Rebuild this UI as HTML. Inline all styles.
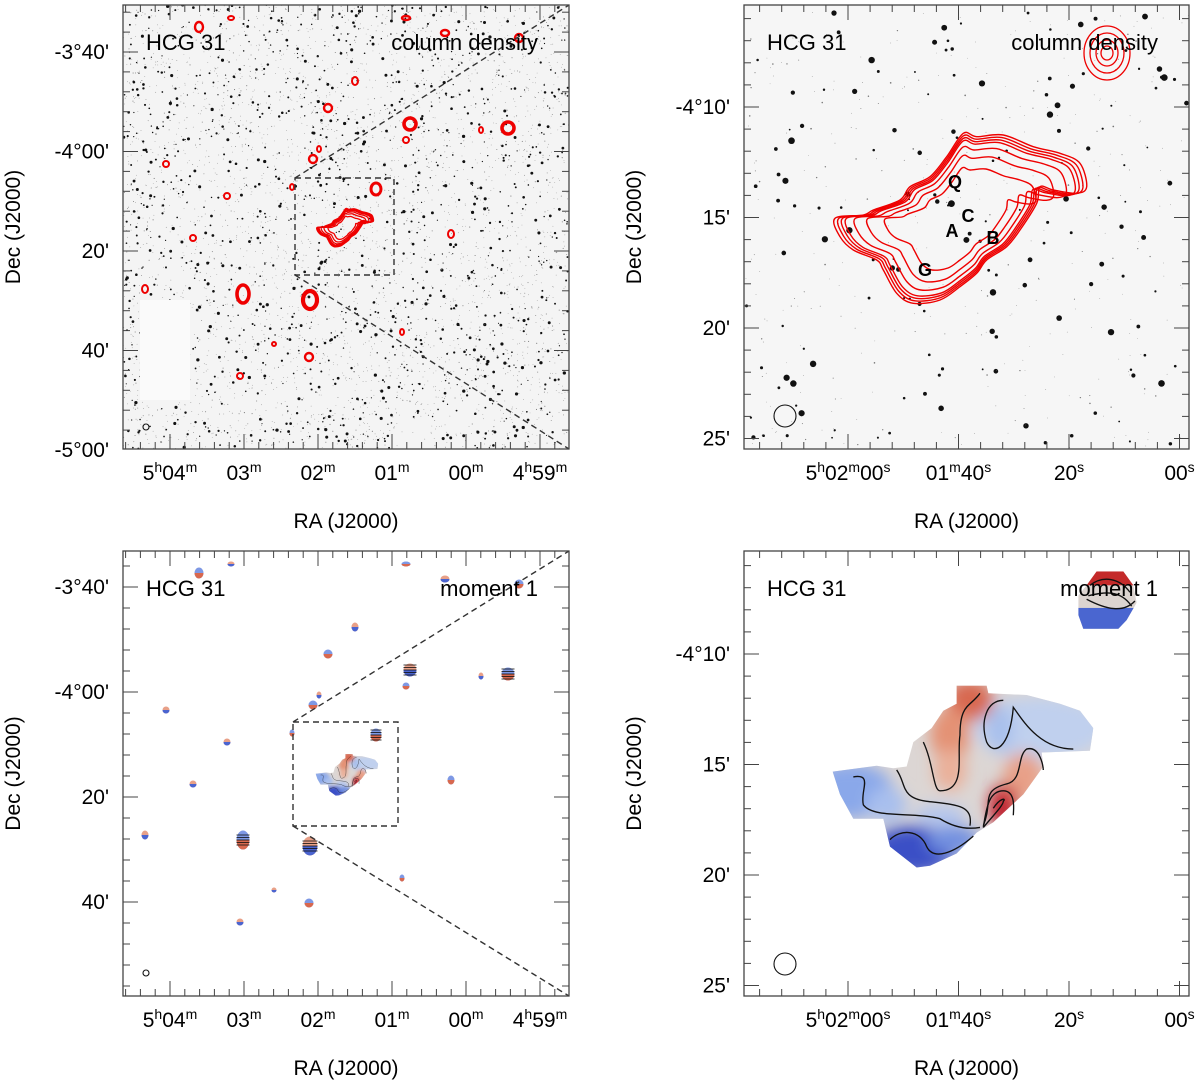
<!DOCTYPE html>
<html><head><meta charset="utf-8"><style>
html,body{margin:0;padding:0;background:#fff;}
svg{display:block;font-family:"Liberation Sans",Arial,sans-serif;}
</style></head><body>
<svg id="fig" width="1200" height="1085" viewBox="0 0 1200 1085" xmlns="http://www.w3.org/2000/svg">
<defs>
<filter id="blur8" x="-50%" y="-50%" width="200%" height="200%"><feGaussianBlur stdDeviation="22"/></filter>
<clipPath id="clipTL"><rect x="123" y="5" width="446" height="444"/></clipPath>
<clipPath id="clipTR"><rect x="744" y="5" width="445" height="444"/></clipPath>
<clipPath id="clipBL"><rect x="123" y="551" width="446" height="445"/></clipPath>
<clipPath id="blobClip"><polygon id="blobPoly" points="278,665 300,730 340,800 430,800 450,880 530,940 570,935 650,900 710,840 760,810 850,730 910,650 905,610 1050,605 1060,540 1020,490 960,470 860,445 745,440 740,418 650,418 650,470 610,490 575,540 520,580 500,650 460,655 410,648"/></clipPath>
<clipPath id="smallClip"><polygon points="1070,90 1150,90 1180,130 1190,180 1160,230 1135,255 1030,255 1015,215 1015,160 1040,130"/></clipPath>
</defs>
<g id="layer"></g>
</svg>
<script>
// ---- data arrays ----
const tlYLabels=["-3°40'","-4°00'","20'","40'","-5°00'"];
const tlXLabels=[["5","h","04","m"],["03","m"],["02","m"],["01","m"],["00","m"],["4","h","59","m"]];
const trYLabels=["-4°10'","15'","20'","25'"];
const trXLabels=[["5","h","02","m","00","s"],["01","m","40","s"],["20","s"],["00","s"]];
const hiSources=[[199,27,4,5],[231,18,3,2],[406,18,4,2],[445,33,4,3],[519,38,4,4],[355,81,3,4],[328,108,4,4],[410,124,6,6],[508,128,6,6],[481,130,2,3],[406,140,3,3],[319,149,2,3],[313,159,4,4],[166,164,3,3],[292,187,2,3],[227,196,3,3],[376,189,5,6],[193,238,3,3],[451,234,3,4],[145,289,3,4],[243,294,6,9],[310,300,7,9],[402,332,2,3],[274,344,2,2],[309,357,4,4],[240,376,3,3]];
const outerContour=[[45,295],[130,285],[160,270],[240,240],[270,200],[330,170],[380,110],[430,40],[470,50],[550,45],[640,80],[720,100],[780,130],[800,200],[770,220],[700,210],[660,200],[650,250],[600,330],[560,380],[500,420],[470,460],[420,500],[360,540],[280,550],[230,520],[190,450],[170,420],[100,390],[60,350]];
const contourLevels=[1,0.97,0.94,0.91,0.84,0.74,0.6];

const NS="http://www.w3.org/2000/svg";
const layer=document.getElementById('layer');
function el(tag,attrs,parent){const e=document.createElementNS(NS,tag);for(const k in attrs)e.setAttribute(k,attrs[k]);(parent||layer).appendChild(e);return e;}
let seed=12345;function rnd(){seed=(seed*1103515245+12345)%2147483648;return seed/2147483648;}
function smooth(pts){let d='M'+pts[0][0].toFixed(1)+','+pts[0][1].toFixed(1);const n=pts.length;
  for(let i=0;i<n;i++){const p0=pts[(i-1+n)%n],p1=pts[i],p2=pts[(i+1)%n],p3=pts[(i+2)%n];
    d+=` C${(p1[0]+(p2[0]-p0[0])/6).toFixed(1)},${(p1[1]+(p2[1]-p0[1])/6).toFixed(1)} ${(p2[0]-(p3[0]-p1[0])/6).toFixed(1)},${(p2[1]-(p3[1]-p1[1])/6).toFixed(1)} ${p2[0].toFixed(1)},${p2[1].toFixed(1)}`;}
  return d+'Z';}

// ---- star field backgrounds ----
function starfield(x,y,w,h,n,rmax,clip,name,bg){
  const g=el('g',{'clip-path':'url(#'+clip+')'});
  
  
  el('rect',{x:x,y:y,width:w,height:h,fill:bg},g);
  for(let i=0;i<n;i++){const r=rnd();el('circle',{cx:x+rnd()*w,cy:y+rnd()*h,r:(0.35+Math.pow(r,5)*rmax).toFixed(2),fill:r>0.7?'#111':'#777'},g);}
  return g;
}
const tlBg=starfield(123,5,446,444,4500,1.3,'clipTL','tl-optical-image','#f4f4f4');
el('rect',{x:140,y:300,width:50,height:100,fill:'#fafafa'},tlBg);
const trBg=starfield(744,5,445,444,520,3,'clipTR','tr-optical-image','#f6f6f6');

// ---- red HI blobs TL ----
hiSources.forEach(s=>{
  const e=el('ellipse',{cx:s[0],cy:s[1],rx:s[2],ry:s[3],fill:'none',stroke:'#e00',"stroke-width":Math.max(2,s[2]*0.6)});
  
  
});
function contours(cx,cy,sx,sy,ox,oy,parent,name,color,width){
  contourLevels.forEach(f=>{
    const pts=outerContour.map(p=>{const px=420+(p[0]-420)*f,py=300+(p[1]-300)*f;return [ox+(px-cx)*sx,oy+(py-cy)*sy];});
    const e=el('path',{d:smooth(pts),fill:'none',stroke:color,'stroke-width':width,'stroke-linejoin':'round'},parent);
    
    
  });
}
contours(420,300,0.075,0.075,345,228,layer,'central-contour','#e00',1.3);
contours(0,0,1/3,1/3,820,120,layer,'hi-contour','#e00',1.4);
[[23,27],[17,20],[11,13],[6,7]].forEach(r=>{const e=el('ellipse',{cx:1107,cy:53,rx:r[0],ry:r[1],fill:'none',stroke:'#e00','stroke-width':1.3});});
[["Q",955,188],["C",968,222],["A",952,237],["B",993,244],["G",925,276]].forEach(l=>{const t=el('text',{x:l[1],y:l[2],'font-size':18,'font-weight':'bold','text-anchor':'middle'});t.textContent=l[0];});

// ---- moment1 BR ----
function momentMap(parent){
  const mc=el('g',{'clip-path':'url(#blobClip)'},parent);
  el('rect',{x:250,y:400,width:850,height:560,fill:'#dcd6d4'},mc);
  const fb=el('g',{filter:'url(#blur8)'},mc);
  [[330,720,130,80,'#8aa8ea'],[440,760,60,50,'#a8bfee'],[520,890,130,70,'#3a50c6'],[640,860,80,40,'#7290e0'],[600,790,80,30,'#b4c6ee'],
   [900,540,200,90,'#c0d0ee'],[780,540,40,70,'#a8c0ec'],
   [690,460,70,60,'#d86850'],[630,560,60,80,'#e49274'],[630,660,50,60,'#eab09a'],
   [850,680,60,70,'#e8a088'],[790,760,45,60,'#c8303a'],[780,790,25,35,'#b80a24']].forEach(b=>el('ellipse',{cx:b[0],cy:b[1],rx:b[2],ry:b[3],fill:b[4]},fb));
  [["M340,680 C400,670 360,720 370,760 C400,800 520,780 600,800 C650,830 690,830 720,825"],
   ["M470,660 C500,700 480,740 560,750 C650,760 700,760 690,820"],
   ["M450,860 C480,830 540,830 560,880 C580,920 640,900 700,850"],
   ["M720,440 C690,480 660,470 660,560 C650,620 680,720 600,720 C580,720 580,640 550,580"],
   ["M790,460 C740,460 720,520 740,580 C760,620 810,600 820,480 C850,520 900,600 1000,600"],
   ["M730,820 C760,750 720,720 800,700 C850,690 830,620 860,600 C900,590 910,650 910,660"],
   ["M730,825 C770,780 790,760 790,750 C800,740 780,740 760,770"],
   ["M730,825 C740,760 750,720 790,720 C830,720 820,780 820,790"]].forEach(p=>el('path',{d:p[0],fill:'none',stroke:'#111','stroke-width':4},parent));
}
const m1=el('g',{transform:'translate(740,540) scale(0.3333,0.3484)'});


momentMap(m1);
const sc=el('g',{'clip-path':'url(#smallClip)'},m1);
el('rect',{x:1000,y:80,width:200,height:180,fill:'#dcd4d0'},sc);
el('rect',{x:1000,y:80,width:200,height:50,fill:'#c42a2a'},sc);
el('rect',{x:1000,y:195,width:200,height:70,fill:'#4a66d0'},sc);
el('path',{d:'M1050,130 C1090,100 1140,110 1170,150 M1045,160 C1090,150 1140,140 1175,190 M1040,170 C1100,200 1150,210 1185,175',fill:'none',stroke:'#111','stroke-width':4},m1);

// ---- BL small moment1 blobs ----
const bl=el('g',{'clip-path':'url(#clipBL)'});


hiSources.forEach((s,i)=>{
  const cx=s[0],cy=s[1]+546,rx=s[2]+0.5,ry=s[3]+0.5;
  const g=el('g',{},bl);
  
  
  el('ellipse',{cx:cx,cy:cy,rx:rx,ry:ry,fill:i%2?'#e8a088':'#7e98e4'},g);
  el('path',{d:`M${cx-rx},${cy} A${rx},${ry} 0 0 0 ${cx+rx},${cy} Z`,fill:i%2?'#4a64d0':'#d8684e'},g);
  if(s[2]>=5){for(let k=-2;k<=2;k++)el('line',{x1:cx-rx,y1:cy+k*2.5,x2:cx+rx,y2:cy+k*2.5,stroke:'#111','stroke-width':0.8},g);}
});
const blc=el('g',{transform:'translate(347,775) scale(0.08,0.08) translate(-670,-680)'},bl);
momentMap(blc);

// ---- frames, boxes, dashed lines ----
function dashes(d,name){const e=el('path',{d:d,fill:'none',stroke:'#333','stroke-width':1.4,'stroke-dasharray':'6,4'});}
dashes('M295,178 H394 V275 H295 Z M295,178 L569,5 M295,275 L569,449','tl-zoom-box');
dashes('M293,722 H398 V826 H293 Z M293,722 L569,551 M293,826 L569,996','bl-zoom-box');
[[146,427,3],[146,973,3],[785,416,11],[785,964,11]].forEach(b=>{const e=el('circle',{cx:b[0],cy:b[1],r:b[2],fill:'none',stroke:'#111','stroke-width':1.1});});

function panel(x0,y0,w,h,name,yMaj,yLabels,ySub,xMaj,xLabels,xSub,mode){
  const g=el('g',{});
  
  
  el('rect',{x:x0,y:y0,width:w,height:h,fill:'none',stroke:'#444','stroke-width':1.3},g);
  const ys=yMaj[1]-yMaj[0];
  for(let v=yMaj[0]-ys;v<y0+h+1;v+=ys/ySub){ if(v<y0||v>y0+h)continue;
    const maj=Math.abs(((v-yMaj[0])/ys)-Math.round((v-yMaj[0])/ys))<0.01; const L=maj?15:7;
    el('line',{x1:x0,y1:v,x2:x0+L,y2:v,stroke:'#444'},g);el('line',{x1:x0+w,y1:v,x2:x0+w-L,y2:v,stroke:'#444'},g);}
  const xs=xMaj[1]-xMaj[0];
  for(let v=xMaj[0]-xs;v<x0+w+1;v+=xs/xSub){ if(v<x0||v>x0+w)continue;
    const maj=Math.abs(((v-xMaj[0])/xs)-Math.round((v-xMaj[0])/xs))<0.01; const L=maj?15:7;
    el('line',{x1:v,y1:y0,x2:v,y2:y0+L,stroke:'#444'},g);el('line',{x1:v,y1:y0+h,x2:v,y2:y0+h-L,stroke:'#444'},g);}
  yLabels.forEach((t,i)=>{const e=el('text',{x:x0-14,y:yMaj[0]+i*ys+7,'font-size':21,'text-anchor':'end'},g);e.textContent=t;});
  xLabels.forEach((parts,i)=>{const e=el('text',{x:xMaj[0]+i*xs,y:y0+h+31,'font-size':21,'text-anchor':'middle'},g);
    for(let j=0;j<parts.length;j++){const ts=el('tspan',{},e);ts.textContent=parts[j];if(j%2==1){ts.setAttribute('font-size','14');ts.setAttribute('dy','-8');}else if(j>0){ts.setAttribute('dy','8');}}
    });
  let t=el('text',{x:x0+w/2,y:y0+h+79,'font-size':21,'text-anchor':'middle'},g);t.textContent='RA (J2000)';
  t=el('text',{x:0,y:0,'font-size':21,'text-anchor':'middle',transform:`translate(${x0-103},${y0+h/2}) rotate(-90)`},g);t.textContent='Dec (J2000)';
  t=el('text',{x:x0+23,y:y0+45,'font-size':22},g);t.textContent='HCG 31';
  t=el('text',{x:x0+w-31,y:y0+45,'font-size':22,'text-anchor':'end'},g);t.textContent=mode;
}
panel(123,5,446,444,'panel-top-left',[52,151.5],tlYLabels,5,[170,244],tlXLabels,5,'column density');
panel(744,5,445,444,'panel-top-right',[107,217.5],trYLabels,5,[848,958.5],trXLabels,5,'column density');
panel(123,551,446,445,'panel-bottom-left',[587,692],tlYLabels.slice(0,4),5,[170,244],tlXLabels,5,'moment 1');
panel(744,551,445,445,'panel-bottom-right',[654,764.5],trYLabels,5,[848,958.5],trXLabels,5,'moment 1');
</script>
</body></html>
